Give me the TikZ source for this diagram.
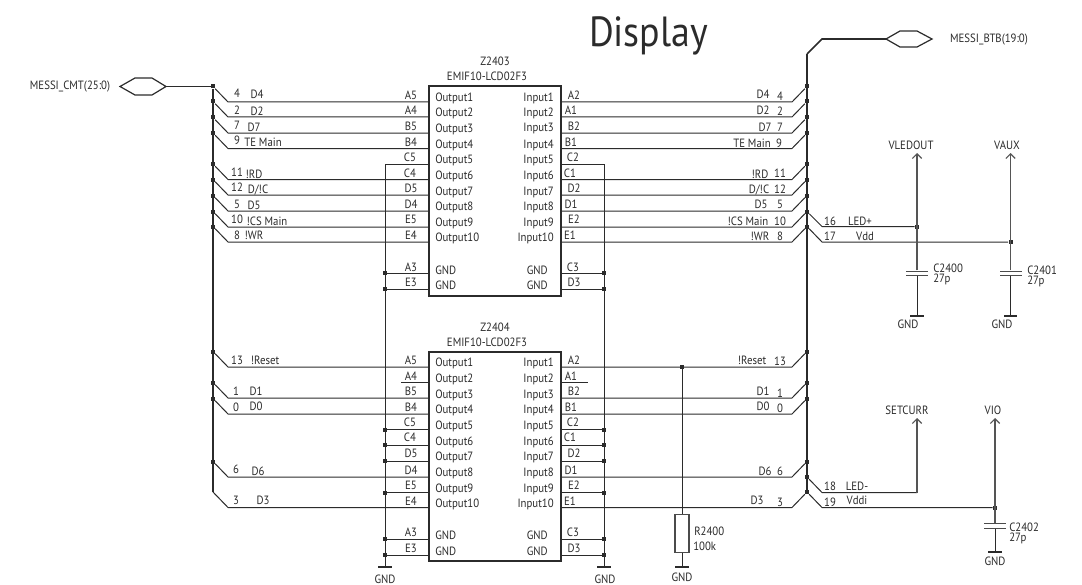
\documentclass[tikz,border=0pt]{standalone}
\usepackage{fontspec}
\setmainfont[FakeStretch=0.9]{PT Sans}
\usetikzlibrary{arrows.meta}
\definecolor{ink}{HTML}{2B2B2B}
\begin{document}
\begin{tikzpicture}[x=0.75pt,y=-0.75pt]
        \tikzstyle{wire}=[draw=ink, line width=0.75pt]
        \tikzstyle{bus}=[draw=ink, line width=1.3pt]
        \tikzstyle{supply}=[draw=ink!80, line width=0.8pt, -{Straight Barb[length=3.5pt,width=7pt,line width=0.9pt]}]
        \tikzstyle{dot}=[rectangle, fill=ink, minimum size=3pt, inner sep=0pt]
        \tikzstyle{chip}=[rectangle, draw=ink, line width=1.1pt, minimum width=99pt, inner sep=0pt]
        \tikzstyle{hexport}=[draw=ink, line width=0.9pt]
        \tikzstyle{plate}=[rectangle, fill=ink!85, minimum width=16.5pt, minimum height=0.7pt, inner sep=0pt]
        \tikzstyle{gndbar}=[rectangle, fill=ink, minimum width=10pt, minimum height=1.1pt, inner sep=0pt]
        \tikzstyle{resistor}=[rectangle, draw=ink!85, line width=0.8pt, minimum width=10.5pt, minimum height=29pt, inner sep=0pt]
        \tikzstyle{txt}=[font=\fontsize{9pt}{10pt}\selectfont, text=ink, inner sep=0pt]
        \tikzstyle{west}=[txt, anchor=west]
        \tikzstyle{east}=[txt, anchor=east]

        \useasboundingbox (0,0) rectangle (1082,585);

        \node [font=\fontsize{31.6pt}{36pt}\selectfont, text=ink, anchor=base, inner sep=0pt] (title) at (648.5,47) {Display};

        \node [txt] (cmtname) at (70,87) {MESSI\_CMT(25:0)};
        \node [txt] (btbname) at (989,40) {MESSI\_BTB(19:0)};
        \coordinate (cmt) at (166,86.5);
        \coordinate (btb) at (886,39);
        \draw [hexport] (cmt) -- ++(-14,-8.5) -- ++(-17,0) -- ++(-15,8.5) -- ++(15,8.5) -- ++(17,0) -- cycle;
        \draw [hexport] (btb) -- ++(14,-8) -- ++(17,0) -- ++(15,8) -- ++(-15,8) -- ++(-17,0) -- cycle;

        \node [chip, minimum height=157.5pt] (z2403) at (495,191) {};
        \node [chip, minimum height=156.75pt] (z2404) at (495,456.5) {};
        \node [txt] (z2403ref) at (495,61) {Z2403};
        \node [txt] (z2403val) at (487,76) {EMIF10-LCD02F3};
        \node [txt] (z2404ref) at (495,327) {Z2404};
        \node [txt] (z2404val) at (487,342) {EMIF10-LCD02F3};

        \coordinate (a1) at (429,102);
        \coordinate (a2) at (429,117);
        \coordinate (a3) at (429,133);
        \coordinate (a4) at (429,148.5);
        \coordinate (a5) at (429,164);
        \coordinate (a6) at (429,179.5);
        \coordinate (a7) at (429,195);
        \coordinate (a8) at (429,211);
        \coordinate (a9) at (429,227);
        \coordinate (a10) at (429,242);
        \coordinate (a11) at (429,273);
        \coordinate (a12) at (429,289);
        \coordinate (b1) at (561,102);
        \coordinate (b2) at (561,117);
        \coordinate (b3) at (561,133);
        \coordinate (b4) at (561,148.5);
        \coordinate (b5) at (561,164);
        \coordinate (b6) at (561,179.5);
        \coordinate (b7) at (561,195);
        \coordinate (b8) at (561,211);
        \coordinate (b9) at (561,227);
        \coordinate (b10) at (561,242);
        \coordinate (b11) at (561,273);
        \coordinate (b12) at (561,289);
        \coordinate (c1) at (429,367);
        \coordinate (c2) at (429,382.5);
        \coordinate (c3) at (429,398);
        \coordinate (c4) at (429,414);
        \coordinate (c5) at (429,429.5);
        \coordinate (c6) at (429,445);
        \coordinate (c7) at (429,461);
        \coordinate (c8) at (429,477);
        \coordinate (c9) at (429,492.5);
        \coordinate (c10) at (429,507.5);
        \coordinate (c11) at (429,539);
        \coordinate (c12) at (429,555);
        \coordinate (d1) at (561,367);
        \coordinate (d2) at (561,382.5);
        \coordinate (d3) at (561,398);
        \coordinate (d4) at (561,414);
        \coordinate (d5) at (561,429.5);
        \coordinate (d6) at (561,445);
        \coordinate (d7) at (561,461);
        \coordinate (d8) at (561,477);
        \coordinate (d9) at (561,492.5);
        \coordinate (d10) at (561,507.5);
        \coordinate (d11) at (561,539);
        \coordinate (d12) at (561,555);
        \coordinate (c2end) at (401,382.5);
        \coordinate (d2end) at (588,382.5);

        \node [west] (o1) at (435,98) {Output1};
        \node [west] (o2) at (435,113) {Output2};
        \node [west] (o3) at (435,129) {Output3};
        \node [west] (o4) at (435,145) {Output4};
        \node [west] (o5) at (435,160) {Output5};
        \node [west] (o6) at (435,176) {Output6};
        \node [west] (o7) at (435,192) {Output7};
        \node [west] (o8) at (435,207) {Output8};
        \node [west] (o9) at (435,223) {Output9};
        \node [west] (o10) at (435,238) {Output10};
        \node [west] (o11) at (435,270) {GND};
        \node [west] (o12) at (435,285) {GND};
        \node [east] (i1) at (554,98) {Input1};
        \node [east] (i2) at (554,113) {Input2};
        \node [east] (i3) at (554,129) {Input3};
        \node [east] (i4) at (554,145) {Input4};
        \node [east] (i5) at (554,160) {Input5};
        \node [east] (i6) at (554,176) {Input6};
        \node [east] (i7) at (554,192) {Input7};
        \node [east] (i8) at (554,207) {Input8};
        \node [east] (i9) at (554,223) {Input9};
        \node [east] (i10) at (554,238) {Input10};
        \node [east] (i11) at (548,270) {GND};
        \node [east] (i12) at (548,285) {GND};
        \node [west] (p1) at (435,363) {Output1};
        \node [west] (p2) at (435,379) {Output2};
        \node [west] (p3) at (435,395) {Output3};
        \node [west] (p4) at (435,410) {Output4};
        \node [west] (p5) at (435,426) {Output5};
        \node [west] (p6) at (435,442) {Output6};
        \node [west] (p7) at (435,457) {Output7};
        \node [west] (p8) at (435,473) {Output8};
        \node [west] (p9) at (435,489) {Output9};
        \node [west] (p10) at (435,504) {Output10};
        \node [west] (p11) at (435,535) {GND};
        \node [west] (p12) at (435,551) {GND};
        \node [east] (q1) at (554,363) {Input1};
        \node [east] (q2) at (554,379) {Input2};
        \node [east] (q3) at (554,395) {Input3};
        \node [east] (q4) at (554,410) {Input4};
        \node [east] (q5) at (554,426) {Input5};
        \node [east] (q6) at (554,442) {Input6};
        \node [east] (q7) at (554,457) {Input7};
        \node [east] (q8) at (554,473) {Input8};
        \node [east] (q9) at (554,489) {Input9};
        \node [east] (q10) at (554,504) {Input10};
        \node [east] (q11) at (548,535) {GND};
        \node [east] (q12) at (548,551) {GND};

        \node [txt] (pa1) at (411,95) {A5};
        \node [txt] (pa2) at (411,110) {A4};
        \node [txt] (pa3) at (411,126) {B5};
        \node [txt] (pa4) at (411,142) {B4};
        \node [txt] (pa5) at (410,157) {C5};
        \node [txt] (pa6) at (410,173) {C4};
        \node [txt] (pa7) at (411,188) {D5};
        \node [txt] (pa8) at (411,204) {D4};
        \node [txt] (pa9) at (411,219) {E5};
        \node [txt] (pa10) at (411,235) {E4};
        \node [txt] (pa11) at (411,267) {A3};
        \node [txt] (pa12) at (411,282) {E3};
        \node [txt] (pb1) at (574,95) {A2};
        \node [txt] (pb2) at (571,110) {A1};
        \node [txt] (pb3) at (574,126) {B2};
        \node [txt] (pb4) at (571,142) {B1};
        \node [txt] (pb5) at (573,157) {C2};
        \node [txt] (pb6) at (570,173) {C1};
        \node [txt] (pb7) at (574,188) {D2};
        \node [txt] (pb8) at (571,204) {D1};
        \node [txt] (pb9) at (574,219) {E2};
        \node [txt] (pb10) at (570,235) {E1};
        \node [txt] (pb11) at (573,267) {C3};
        \node [txt] (pb12) at (574,282) {D3};
        \node [txt] (pc1) at (411,360) {A5};
        \node [txt] (pc2) at (411,376) {A4};
        \node [txt] (pc3) at (411,391) {B5};
        \node [txt] (pc4) at (411,407) {B4};
        \node [txt] (pc5) at (410,422) {C5};
        \node [txt] (pc6) at (410,437) {C4};
        \node [txt] (pc7) at (411,453) {D5};
        \node [txt] (pc8) at (411,470) {D4};
        \node [txt] (pc9) at (411,485) {E5};
        \node [txt] (pc10) at (411,501) {E4};
        \node [txt] (pc11) at (411,532) {A3};
        \node [txt] (pc12) at (411,548) {E3};
        \node [txt] (pd1) at (574,360) {A2};
        \node [txt] (pd2) at (571,376) {A1};
        \node [txt] (pd3) at (574,391) {B2};
        \node [txt] (pd4) at (571,407) {B1};
        \node [txt] (pd5) at (573,422) {C2};
        \node [txt] (pd6) at (570,437) {C1};
        \node [txt] (pd7) at (574,453) {D2};
        \node [txt] (pd8) at (571,470) {D1};
        \node [txt] (pd9) at (574,485) {E2};
        \node [txt] (pd10) at (570,501) {E1};
        \node [txt] (pd11) at (573,532) {C3};
        \node [txt] (pd12) at (574,548) {D3};

        \node [dot] (l4) at (213,86.5) {};
        \node [dot] (l2) at (213,101.5) {};
        \node [dot] (l7) at (213,117.5) {};
        \node [dot] (l9) at (213,133) {};
        \node [dot] (l11) at (213,164) {};
        \node [dot] (l12) at (213,179.5) {};
        \node [dot] (l5) at (213,195.5) {};
        \node [dot] (l10) at (213,211.5) {};
        \node [dot] (l8) at (213,226.5) {};
        \node [dot] (l13) at (213,351.5) {};
        \node [dot] (l1) at (213,382.5) {};
        \node [dot] (l0) at (213,398.5) {};
        \node [dot] (l6) at (213,461.5) {};
        \coordinate (l3) at (213,492);

        \node [dot] (r4) at (807,86.5) {};
        \node [dot] (r2) at (807,101.5) {};
        \node [dot] (r7) at (807,117.5) {};
        \node [dot] (r9) at (807,133) {};
        \node [dot] (r11) at (807,164) {};
        \node [dot] (r12) at (807,179.5) {};
        \node [dot] (r5) at (807,195.5) {};
        \node [dot] (r10) at (807,211.5) {};
        \node [dot] (r8) at (807,226.5) {};
        \node [dot] (r13) at (807,351.5) {};
        \node [dot] (r1) at (807,382.5) {};
        \node [dot] (r0) at (807,398.5) {};
        \node [dot] (r6) at (807,461.5) {};
        \node [dot] (r18) at (807,477) {};
        \node [dot] (r3) at (807,492) {};
        \coordinate (rtop) at (807,54);

        \node [txt] (lx4) at (237,93) {4};
        \node [txt] (ln4) at (257,94) {D4};
        \node [txt] (lx2) at (237,110) {2};
        \node [txt] (ln2) at (257,111) {D2};
        \node [txt] (lx7) at (237,125) {7};
        \node [txt] (ln7) at (254,127) {D7};
        \node [txt] (lx9) at (237,140) {9};
        \node [txt] (ln9) at (263,142) {TE Main};
        \node [txt] (lx11) at (237,172) {11};
        \node [txt] (ln11) at (254,174) {!RD};
        \node [txt] (lx12) at (237,187) {12};
        \node [txt] (ln12) at (258,190) {D/!C};
        \node [txt] (lx5) at (237,204) {5};
        \node [txt] (ln5) at (254,205) {D5};
        \node [txt] (lx10) at (237,219) {10};
        \node [txt] (ln10) at (267,221) {!CS Main};
        \node [txt] (lx8) at (237,235) {8};
        \node [txt] (ln8) at (254,235) {!WR};
        \node [txt] (lx13) at (237,360) {13};
        \node [txt] (ln13) at (265,360) {!Reset};
        \node [txt] (lx1) at (236,391) {1};
        \node [txt] (ln1) at (256,391) {D1};
        \node [txt] (lx0) at (236,407) {0};
        \node [txt] (ln0) at (256,406) {D0};
        \node [txt] (lx6) at (236,469) {6};
        \node [txt] (ln6) at (258,471) {D6};
        \node [txt] (lx3) at (236,500) {3};
        \node [txt] (ln3) at (263,500) {D3};

        \node [txt] (rn4) at (763,94) {D4};
        \node [txt] (rx4) at (780,96) {4};
        \node [txt] (rn2) at (763,110) {D2};
        \node [txt] (rx2) at (780,111) {2};
        \node [txt] (rn7) at (765,127) {D7};
        \node [txt] (rx7) at (780,127) {7};
        \node [txt] (rn9) at (752,143) {TE Main};
        \node [txt] (rx9) at (779,143) {9};
        \node [txt] (rn11) at (760,174) {!RD};
        \node [txt] (rx11) at (780,173) {11};
        \node [txt] (rn12) at (759,190) {D/!C};
        \node [txt] (rx12) at (780,189) {12};
        \node [txt] (rn5) at (761,204) {D5};
        \node [txt] (rx5) at (780,204) {5};
        \node [txt] (rn10) at (748,221) {!CS Main};
        \node [txt] (rx10) at (780,221) {10};
        \node [txt] (rn8) at (760,236) {!WR};
        \node [txt] (rx8) at (780,236) {8};
        \node [txt] (rn13) at (752,360) {!Reset};
        \node [txt] (rx13) at (780,361) {13};
        \node [txt] (rn1) at (763,391) {D1};
        \node [txt] (rx1) at (780,393) {1};
        \node [txt] (rn0) at (763,406) {D0};
        \node [txt] (rx0) at (780,408) {0};
        \node [txt] (rn6) at (765,471) {D6};
        \node [txt] (rx6) at (780,471) {6};
        \node [txt] (rn3) at (757,500) {D3};
        \node [txt] (rx3) at (780,502) {3};
        \node [txt] (sx16) at (830,221) {16};
        \node [txt] (sn16) at (860,221) {LED+};
        \node [txt] (sx17) at (830,236) {17};
        \node [txt] (sn17) at (865,236) {Vdd};
        \node [txt] (sx18) at (830,486) {18};
        \node [txt] (sn18) at (857,486) {LED-};
        \node [txt] (sx19) at (830,502) {19};
        \node [txt] (sn19) at (857,500) {Vddi};

        \node [dot] (gl1) at (385,273) {};
        \node [dot] (gl2) at (385,289) {};
        \node [dot] (gl3) at (385,429.5) {};
        \node [dot] (gl4) at (385,445) {};
        \node [dot] (gl5) at (385,461) {};
        \node [dot] (gl6) at (385,492.5) {};
        \node [dot] (gl7) at (385,539) {};
        \node [dot] (gl8) at (385,555) {};
        \node [dot] (gr1) at (604,273) {};
        \node [dot] (gr2) at (604,289) {};
        \node [dot] (gr3) at (604,429.5) {};
        \node [dot] (gr4) at (604,445) {};
        \node [dot] (gr5) at (604,461) {};
        \node [dot] (gr6) at (604,492.5) {};
        \node [dot] (gr7) at (604,539) {};
        \node [dot] (gr8) at (604,555) {};
        \node [gndbar] (gndl) at (385,567) {};
        \node [gndbar] (gndr) at (604,567) {};
        \node [txt] (gndltxt) at (385,579) {GND};
        \node [txt] (gndrtxt) at (605,579) {GND};

        \node [dot] (rtap) at (682,367) {};
        \node [resistor] (r2400) at (682,533.5) {};
        \node [gndbar] (gndres) at (682,567) {};
        \node [txt] (gndrestxt) at (682,577) {GND};
        \node [west] (r2400ref) at (694,531) {R2400};
        \node [west] (r2400val) at (693,546) {100k};

        \node [dot] (vled) at (917,226.5) {};
        \node [dot] (vaux) at (1010.5,242) {};
        \node [dot] (vio) at (995,507.5) {};
        \coordinate (vledup) at (917,153);
        \coordinate (vauxup) at (1010.5,153);
        \coordinate (setup) at (917,418);
        \coordinate (vioup) at (995,418);
        \coordinate (setknee) at (917,492.5);
        \node [txt] (vledtxt) at (911,145) {VLEDOUT};
        \node [txt] (vauxtxt) at (1007,145) {VAUX};
        \node [txt] (settxt) at (907,410) {SETCURR};
        \node [txt] (viotxt) at (993,410) {VIO};

        \node [plate] (c2400a) at (917,271) {};
        \node [plate] (c2400b) at (917,275) {};
        \node [plate] (c2401a) at (1010.5,271) {};
        \node [plate] (c2401b) at (1010.5,275) {};
        \node [plate] (c2402a) at (995,523.5) {};
        \node [plate] (c2402b) at (995,528) {};
        \node [gndbar] (gndc0) at (917,316) {};
        \node [gndbar] (gndc1) at (1010.5,316) {};
        \node [gndbar] (gndc2) at (995,552) {};
        \node [txt] (gndc0txt) at (908,324) {GND};
        \node [txt] (gndc1txt) at (1002,324) {GND};
        \node [txt] (gndc2txt) at (995,561) {GND};
        \node [west] (c2400ref) at (933,268) {C2400};
        \node [west] (c2400val) at (933,279) {27p};
        \node [west] (c2401ref) at (1027,270) {C2401};
        \node [west] (c2401val) at (1027,281) {27p};
        \node [west] (c2402ref) at (1009,527) {C2402};
        \node [west] (c2402val) at (1009,538) {27p};

        \path[bus] (l4) -- (l3);
        \path[bus] (rtop) -- ++(15,-15) -- (btb);
        \path[bus] (rtop) -- (r3);
        \path[wire, line width=0.9pt] (cmt) -- (l4);

        \path[wire] (l4) -- ++(15,15.5) -- (a1);
        \path[wire] (l2) -- ++(15,15.5) -- (a2);
        \path[wire] (l7) -- ++(15,15.5) -- (a3);
        \path[wire] (l9) -- ++(15,15.5) -- (a4);
        \path[wire] (l11) -- ++(15,15.5) -- (a6);
        \path[wire] (l12) -- ++(15,15.5) -- (a7);
        \path[wire] (l5) -- ++(15,15.5) -- (a8);
        \path[wire] (l10) -- ++(15,15.5) -- (a9);
        \path[wire] (l8) -- ++(15,15.5) -- (a10);
        \path[wire] (l13) -- ++(15,15.5) -- (c1);
        \path[wire] (l1) -- ++(15,15.5) -- (c3);
        \path[wire] (l0) -- ++(15,15.5) -- (c4);
        \path[wire] (l6) -- ++(15,15.5) -- (c8);
        \path[wire] (l3) -- ++(15,15.5) -- (c10);

        \path[wire] (r4) -- ++(-15,15.5) -- (b1);
        \path[wire] (r2) -- ++(-15,15.5) -- (b2);
        \path[wire] (r7) -- ++(-15,15.5) -- (b3);
        \path[wire] (r9) -- ++(-15,15.5) -- (b4);
        \path[wire] (r11) -- ++(-15,15.5) -- (b6);
        \path[wire] (r12) -- ++(-15,15.5) -- (b7);
        \path[wire] (r5) -- ++(-15,15.5) -- (b8);
        \path[wire] (r10) -- ++(-15,15.5) -- (b9);
        \path[wire] (r8) -- ++(-15,15.5) -- (b10);
        \path[wire] (r13) -- ++(-15,15.5) -- (d1);
        \path[wire] (r1) -- ++(-15,15.5) -- (d3);
        \path[wire] (r0) -- ++(-15,15.5) -- (d4);
        \path[wire] (r6) -- ++(-15,15.5) -- (d8);
        \path[wire] (r3) -- ++(-15,15.5) -- (d10);

        \path[wire] (a5) -- (gl1 |- a5) -- (gndl);
        \path[wire] (b5) -- (gr1 |- b5) -- (gndr);
        \path[wire] (gl1) -- (a11);
        \path[wire] (gl2) -- (a12);
        \path[wire] (gl3) -- (c5);
        \path[wire] (gl4) -- (c6);
        \path[wire] (gl5) -- (c7);
        \path[wire] (gl6) -- (c9);
        \path[wire] (gl7) -- (c11);
        \path[wire] (gl8) -- (c12);
        \path[wire] (gr1) -- (b11);
        \path[wire] (gr2) -- (b12);
        \path[wire] (gr3) -- (d5);
        \path[wire] (gr4) -- (d6);
        \path[wire] (gr5) -- (d7);
        \path[wire] (gr6) -- (d9);
        \path[wire] (gr7) -- (d11);
        \path[wire] (gr8) -- (d12);
        \path[wire] (c2) -- (c2end);
        \path[wire] (d2) -- (d2end);

        \path[wire] (rtap) -- (r2400);
        \path[wire] (r2400) -- (gndres);

        \path[wire] (r10) -- ++(15,15) -- (vled);
        \path[wire] (r8) -- ++(15,15.5) -- (vaux);
        \path[wire] (r18) -- ++(15,15.5) -- (setknee);
        \path[wire] (r3) -- ++(15,15.5) -- (vio);
        \path[supply] (c2400a) -- (vledup);
        \path[supply] (c2401a) -- (vauxup);
        \path[supply] (setknee) -- (setup);
        \path[supply] (c2402a) -- (vioup);
        \path[wire] (c2400b) -- (gndc0);
        \path[wire] (c2401b) -- (gndc1);
        \path[wire] (c2402b) -- (gndc2);
\end{tikzpicture}
\end{document}
